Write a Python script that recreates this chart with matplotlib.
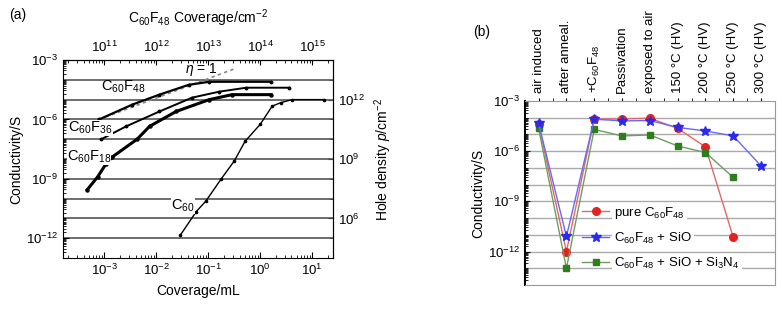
import numpy as np
import matplotlib
matplotlib.use("Agg")
import matplotlib.pyplot as plt
from matplotlib.ticker import FixedLocator, LogLocator, NullFormatter

plt.rcParams['font.family'] = ['Liberation Sans', 'DejaVu Sans']
plt.rcParams['mathtext.fontset'] = 'custom'
plt.rcParams['mathtext.rm'] = 'Liberation Sans'
plt.rcParams['mathtext.it'] = 'Liberation Sans:italic'
plt.rcParams['font.size'] = 9.5

# ---- panel (a): conductivity vs coverage (log10 values)
f48_x = [-3.1, -2.46, -1.94, -1.37, -0.98, 0.21]
f48_y = [-6.0, -5.25, -4.75, -4.25, -4.1, -4.1]
f36_x = [-3.06, -2.58, -1.94, -1.31, -0.79, -0.27, 0.56]
f36_y = [-7.0, -6.35, -5.6, -4.9, -4.6, -4.4, -4.4]
f18_x = [-3.33, -3.13, -2.97, -2.85, -2.37, -2.13, -1.62, -0.98, -0.54, 0.21]
f18_y = [-9.55, -8.9, -8.25, -7.9, -7.0, -6.35, -5.6, -5.0, -4.75, -4.75]
c60_x = [-1.54, -1.23, -1.04, -0.75, -0.5, -0.29, 0.0, 0.23, 0.4, 0.62, 1.23]
c60_y = [-11.85, -10.65, -10.1, -9.0, -8.1, -7.1, -6.25, -5.33, -5.15, -5.0, -5.0]
eta_x = [-3.1, -0.5]
eta_y = [-6.0, -3.45]

# ---- panel (b): conductivity after each treatment step (log10 values)
steps = ['air induced', 'after anneal.', '+C$_{60}$F$_{48}$', 'Passivation',
         'exposed to air', '150 °C (HV)', '200 °C (HV)', '250 °C (HV)', '300 °C (HV)']
pure = [-4.4, -12.0, -4.09, -4.07, -4.03, -4.64, -5.74, -11.15]
sio = [-4.34, -11.1, -4.09, -4.19, -4.17, -4.58, -4.79, -5.09, -6.88]
sin = [-4.64, -13.0, -4.70, -5.09, -5.03, -5.69, -6.08, -7.57]

fig = plt.figure(figsize=(7.82, 3.14), dpi=100)

# ================= (a)
ax = fig.add_axes([0.0806, 0.178, 0.345, 0.631])
ax.set_xscale('log')
ax.set_yscale('log')
ax.set_xlim(1.6e-4, 25)
ax.set_ylim(1e-13, 1e-3)
for d in range(-12, -3):
    ax.axhline(10.0 ** d, color='#555555', lw=1.2, zorder=1)

p = lambda v: 10.0 ** np.array(v)
ax.plot(p(eta_x), p(eta_y), color='#888888', ls=(0, (2, 2)), lw=1.2, zorder=2)
ax.plot(p(f48_x), p(f48_y), color='k', lw=1.6, marker='o', ms=1.8, zorder=3)
ax.plot(p(f36_x), p(f36_y), color='k', lw=1.4, marker='o', ms=1.8, zorder=3)
ax.plot(p(f18_x), p(f18_y), color='k', lw=2.2, marker='o', ms=2.2, zorder=3)
ax.plot(p(c60_x), p(c60_y), color='k', lw=1.0, marker='o', ms=1.6, zorder=3)

wb = dict(facecolor='white', edgecolor='none', pad=0.0)
ax.text(8.5e-4, 4.5e-5, 'C$_{60}$F$_{48}$', fontsize=10.5, va='center', zorder=4)
ax.text(0.035, 3.4e-4, r'$\eta$ = 1', fontsize=10, va='center', zorder=4)
ax.text(2.0e-4, 3.8e-7, 'C$_{60}$F$_{36}$', fontsize=10.5, va='center', bbox=wb, zorder=4)
ax.text(1.9e-4, 1.3e-8, 'C$_{60}$F$_{18}$', fontsize=10.5, va='center', bbox=wb, zorder=4)
ax.text(0.019, 4.5e-11, 'C$_{60}$', fontsize=10.5, va='center', bbox=wb, zorder=4)

ax.yaxis.set_major_locator(FixedLocator([1e-12, 1e-9, 1e-6, 1e-3]))
ax.yaxis.set_minor_locator(LogLocator(base=10, subs=np.arange(1, 10), numticks=30))
ax.yaxis.set_minor_formatter(NullFormatter())
ax.xaxis.set_major_locator(FixedLocator([1e-3, 1e-2, 1e-1, 1, 10]))
ax.xaxis.set_minor_locator(LogLocator(base=10, subs=np.arange(2, 10), numticks=30))
ax.tick_params(which='both', direction='in', labelsize=9.5)
ax.tick_params(which='major', length=4)
ax.tick_params(which='minor', length=2)
ax.set_xlabel('Coverage/mL', fontsize=10)
ax.set_ylabel('Conductivity/S', fontsize=10, labelpad=2)

top = ax.secondary_xaxis('top', functions=(lambda x: x * 1e14, lambda x: x / 1e14))
top.xaxis.set_major_locator(FixedLocator([1e11, 1e12, 1e13, 1e14, 1e15]))
top.xaxis.set_minor_locator(LogLocator(base=10, subs=np.arange(2, 10), numticks=30))
top.tick_params(which='both', direction='in', labelsize=9.5)
top.tick_params(which='minor', length=2)
top.set_xlabel('C$_{60}$F$_{48}$ Coverage/cm$^{-2}$', fontsize=10, labelpad=12)

right = ax.secondary_yaxis('right', functions=(lambda y: y * 1e17, lambda y: y / 1e17))
right.yaxis.set_major_locator(FixedLocator([1e6, 1e9, 1e12]))
right.yaxis.set_minor_locator(FixedLocator([10.0 ** k for k in range(5, 14)]))
right.yaxis.set_minor_formatter(NullFormatter())
right.tick_params(which='both', direction='in', labelsize=9.5)
right.tick_params(which='minor', length=3)
right.set_ylabel('Hole density $\\it{p}$/cm$^{-2}$', fontsize=10, labelpad=6)

fig.text(0.012, 0.94, '(a)', fontsize=10)

# ================= (b)
bx = fig.add_axes([0.671, 0.0924, 0.320, 0.586])
bx.set_yscale('log')
bx.set_xlim(-0.5, 8.5)
bx.set_ylim(1e-14, 1e-3)
for d in range(-13, -3):
    bx.axhline(10.0 ** d, color='#aaaaaa', lw=1.0, zorder=1)

xs = np.arange(len(steps))
bx.plot(xs[:len(pure)], p(pure), color='#e06868', lw=1.0, marker='o', ms=5.5,
        mfc='#e52222', mec='#e52222', label='pure C$_{60}$F$_{48}$', zorder=3)
bx.plot(xs[:len(sin)], p(sin), color='#6f9c62', lw=1.0, marker='s', ms=5,
        mfc='#2f7d1f', mec='#2f7d1f', label='C$_{60}$F$_{48}$ + SiO + Si$_3$N$_4$', zorder=4)
bx.plot(xs[:len(sio)], p(sio), color='#6a6af0', lw=1.0, marker='*', ms=7.5,
        mfc='#2a2aee', mec='#2a2aee', label='C$_{60}$F$_{48}$ + SiO', zorder=5)

h, l = bx.get_legend_handles_labels()
leg = bx.legend([h[0], h[2], h[1]], [l[0], l[2], l[1]], loc='upper left',
                bbox_to_anchor=(0.22, 0.45), frameon=False, fontsize=9.5,
                labelspacing=0.75, handlelength=2.0, handletextpad=0.4,
                borderpad=0.2, borderaxespad=0.0)
leg.set_zorder(6)
for t in leg.get_texts():
    t.set_bbox(dict(facecolor='white', edgecolor='none', pad=1.5))

bx.xaxis.tick_top()
bx.set_xticks(xs)
bx.set_xticklabels(steps, rotation=90, fontsize=9.5)
bx.xaxis.set_minor_locator(FixedLocator(xs[:-1] + 0.5))
bx.tick_params(axis='x', which='both', direction='out', length=2, pad=4)
bx.yaxis.set_major_locator(FixedLocator([1e-12, 1e-9, 1e-6, 1e-3]))
bx.yaxis.set_minor_locator(LogLocator(base=10, subs=np.arange(1, 10), numticks=30))
bx.yaxis.set_minor_formatter(NullFormatter())
bx.tick_params(axis='y', which='both', direction='in', labelsize=9.5)
bx.tick_params(axis='y', which='minor', length=2)
bx.set_ylabel('Conductivity/S', fontsize=10, labelpad=2)
for s in ['top', 'right', 'bottom']:
    bx.spines[s].set_color('#999999')
bx.spines['left'].set_linewidth(1.5)

fig.text(0.605, 0.885, '(b)', fontsize=10)

fig.savefig('out.png', dpi=100)
